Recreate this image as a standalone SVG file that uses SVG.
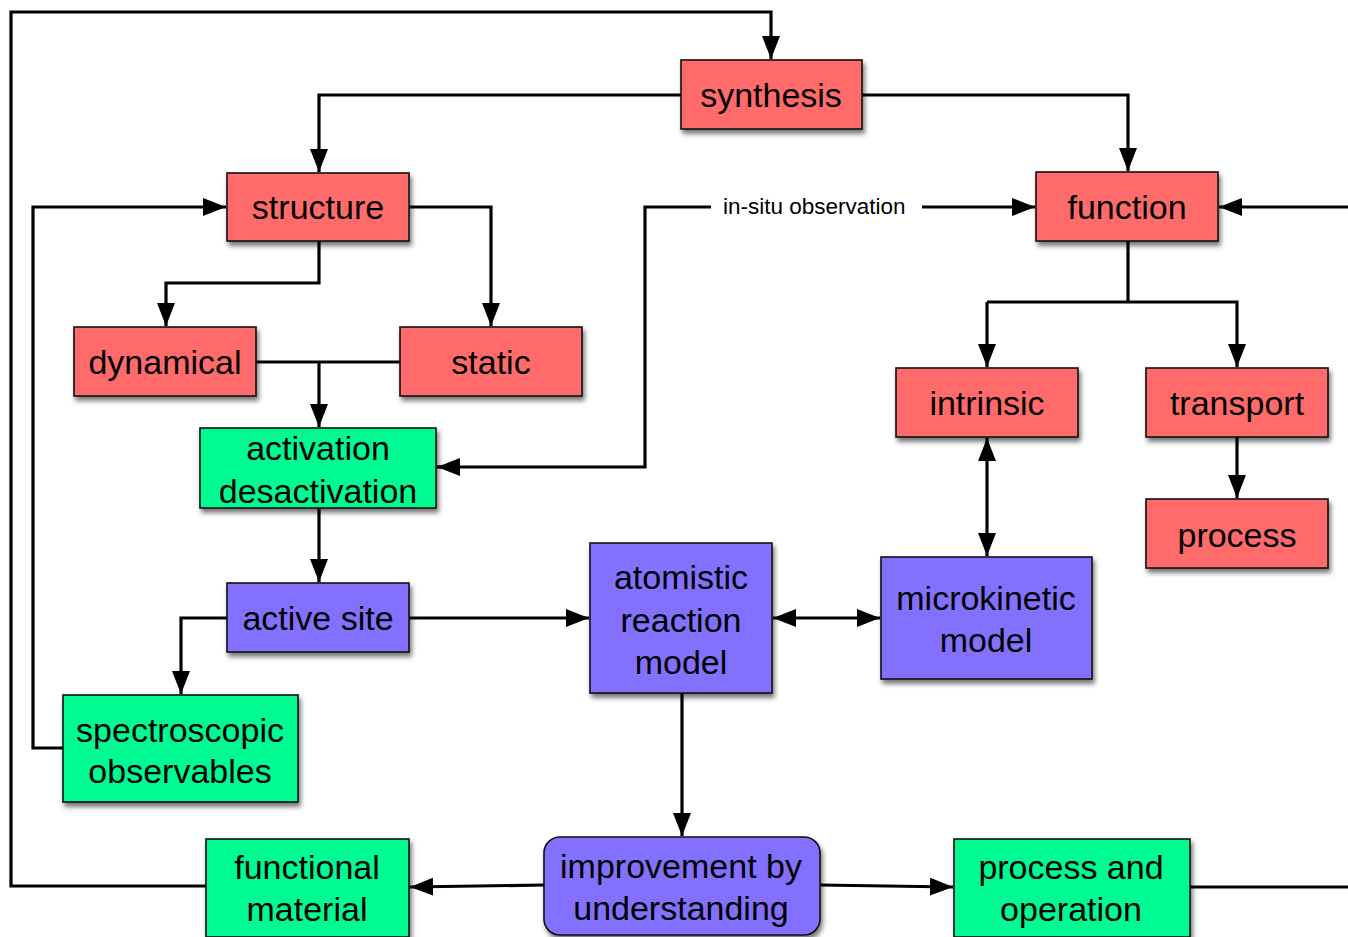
<svg xmlns="http://www.w3.org/2000/svg" width="1348" height="937" viewBox="0 0 1348 937">
  <style>
    .box { stroke: #111; stroke-width: 1.6; filter: url(#shadow); }
    .red { fill: #FF6B6B; }
    .green { fill: #00FA92; }
    .blue { fill: #8470FF; }
    .lbl { font-family: "Liberation Sans", Arial, sans-serif; font-size: 34px; fill: #000; text-anchor: middle; }
    .small { font-family: "Liberation Sans", Arial, sans-serif; font-size: 22.5px; fill: #000; }
    .wire { fill: none; stroke: #000; stroke-width: 3.2; }
    .arr { marker-end: url(#head); }
    .both { marker-start: url(#head); marker-end: url(#head); }
  </style>
  <defs>
    <filter id="shadow" x="-10%" y="-10%" width="125%" height="130%">
      <feDropShadow dx="2" dy="4" stdDeviation="2.5" flood-color="#000" flood-opacity="0.55"/>
    </filter>
    <marker id="head" markerUnits="userSpaceOnUse" markerWidth="24" markerHeight="20" refX="23" refY="9" orient="auto-start-reverse">
      <path d="M0,0 L23,9 L0,18 z" fill="#000"/>
    </marker>
  </defs>

  <rect width="1348" height="937" fill="#fff"/>

  <!-- connectors -->
  <g id="connectors">
    <polyline class="wire arr" points="206,886 11,886 11,12 771,12 771,59"/>
    <polyline class="wire arr" points="681,95 319,95 319,172"/>
    <polyline class="wire arr" points="862,95 1128,95 1128,171"/>
    <polyline class="wire arr" points="409,207 491,207 491,326"/>
    <polyline class="wire arr" points="319,241 319,283 166,283 166,326"/>
    <line class="wire" x1="256" y1="362" x2="400" y2="362"/>
    <polyline class="wire arr" points="319,362 319,427"/>
    <polyline class="wire" points="439,467 645,467 645,207 711,207"/>
    <polyline class="wire arr" points="922,207 1035,207"/>
    <path class="wire" d="M437,467 L445,467" marker-start="url(#head)"/>
    <polyline class="wire arr" points="1348,207 1219,207"/>
    <polyline class="wire" points="1128,241 1128,302"/>
    <polyline class="wire arr" points="987,302 987,367"/>
    <polyline class="wire arr" points="987,302 1237,302 1237,367"/>
    <polyline class="wire arr" points="1237,437 1237,498"/>
    <line class="wire both" x1="987" y1="438" x2="987" y2="556"/>
    <polyline class="wire arr" points="319,508 319,582"/>
    <polyline class="wire arr" points="409,618 589,618"/>
    <line class="wire both" x1="773" y1="618" x2="880" y2="618"/>
    <polyline class="wire arr" points="227,618 181,618 181,694"/>
    <polyline class="wire arr" points="63,748 33,748 33,207 226,207"/>
    <polyline class="wire arr" points="682,693 682,836"/>
    <polyline class="wire arr" points="544,885 410,887"/>
    <polyline class="wire arr" points="820,885 953,887"/>
    <line class="wire" x1="1190" y1="887" x2="1348" y2="887"/>
    <text class="small" x="723" y="214">in-situ observation</text>
  </g>

  <g id="synthesis">
    <rect class="box red" x="681" y="60" width="181" height="69"/>
    <text class="lbl" x="771" y="107">synthesis</text>
  </g>
  <g id="structure">
    <rect class="box red" x="227" y="173" width="182" height="68"/>
    <text class="lbl" x="318" y="219">structure</text>
  </g>
  <g id="function">
    <rect class="box red" x="1036" y="172" width="182" height="69"/>
    <text class="lbl" x="1127" y="219">function</text>
  </g>
  <g id="dynamical">
    <rect class="box red" x="74" y="327" width="182" height="69"/>
    <text class="lbl" x="165" y="374">dynamical</text>
  </g>
  <g id="static">
    <rect class="box red" x="400" y="327" width="182" height="69"/>
    <text class="lbl" x="491" y="374">static</text>
  </g>
  <g id="intrinsic">
    <rect class="box red" x="896" y="368" width="182" height="69"/>
    <text class="lbl" x="987" y="415">intrinsic</text>
  </g>
  <g id="transport">
    <rect class="box red" x="1146" y="368" width="182" height="69"/>
    <text class="lbl" x="1237" y="415">transport</text>
  </g>
  <g id="process">
    <rect class="box red" x="1146" y="499" width="182" height="69"/>
    <text class="lbl" x="1237" y="547">process</text>
  </g>
  <g id="activation">
    <rect class="box green" x="200" y="428" width="236" height="80"/>
    <text class="lbl" x="318" y="460">activation</text>
    <text class="lbl" x="318" y="503">desactivation</text>
  </g>
  <g id="active-site">
    <rect class="box blue" x="227" y="583" width="182" height="69"/>
    <text class="lbl" x="318" y="630">active site</text>
  </g>
  <g id="atomistic">
    <rect class="box blue" x="590" y="543" width="182" height="150"/>
    <text class="lbl" x="681" y="589">atomistic</text>
    <text class="lbl" x="681" y="632">reaction</text>
    <text class="lbl" x="681" y="674">model</text>
  </g>
  <g id="microkinetic">
    <rect class="box blue" x="881" y="557" width="211" height="122"/>
    <text class="lbl" x="986" y="610">microkinetic</text>
    <text class="lbl" x="986" y="652">model</text>
  </g>
  <g id="spectroscopic">
    <rect class="box green" x="63" y="695" width="235" height="107"/>
    <text class="lbl" x="180" y="742">spectroscopic</text>
    <text class="lbl" x="180" y="783">observables</text>
  </g>
  <g id="functional-material">
    <rect class="box green" x="206" y="839" width="203" height="98"/>
    <text class="lbl" x="307" y="879">functional</text>
    <text class="lbl" x="307" y="921">material</text>
  </g>
  <g id="improvement">
    <rect class="box blue" x="544" y="837" width="276" height="98" rx="16"/>
    <text class="lbl" x="681" y="878">improvement by</text>
    <text class="lbl" x="681" y="920">understanding</text>
  </g>
  <g id="process-operation">
    <rect class="box green" x="954" y="839" width="236" height="98"/>
    <text class="lbl" x="1071" y="879">process and</text>
    <text class="lbl" x="1071" y="921">operation</text>
  </g>
</svg>
